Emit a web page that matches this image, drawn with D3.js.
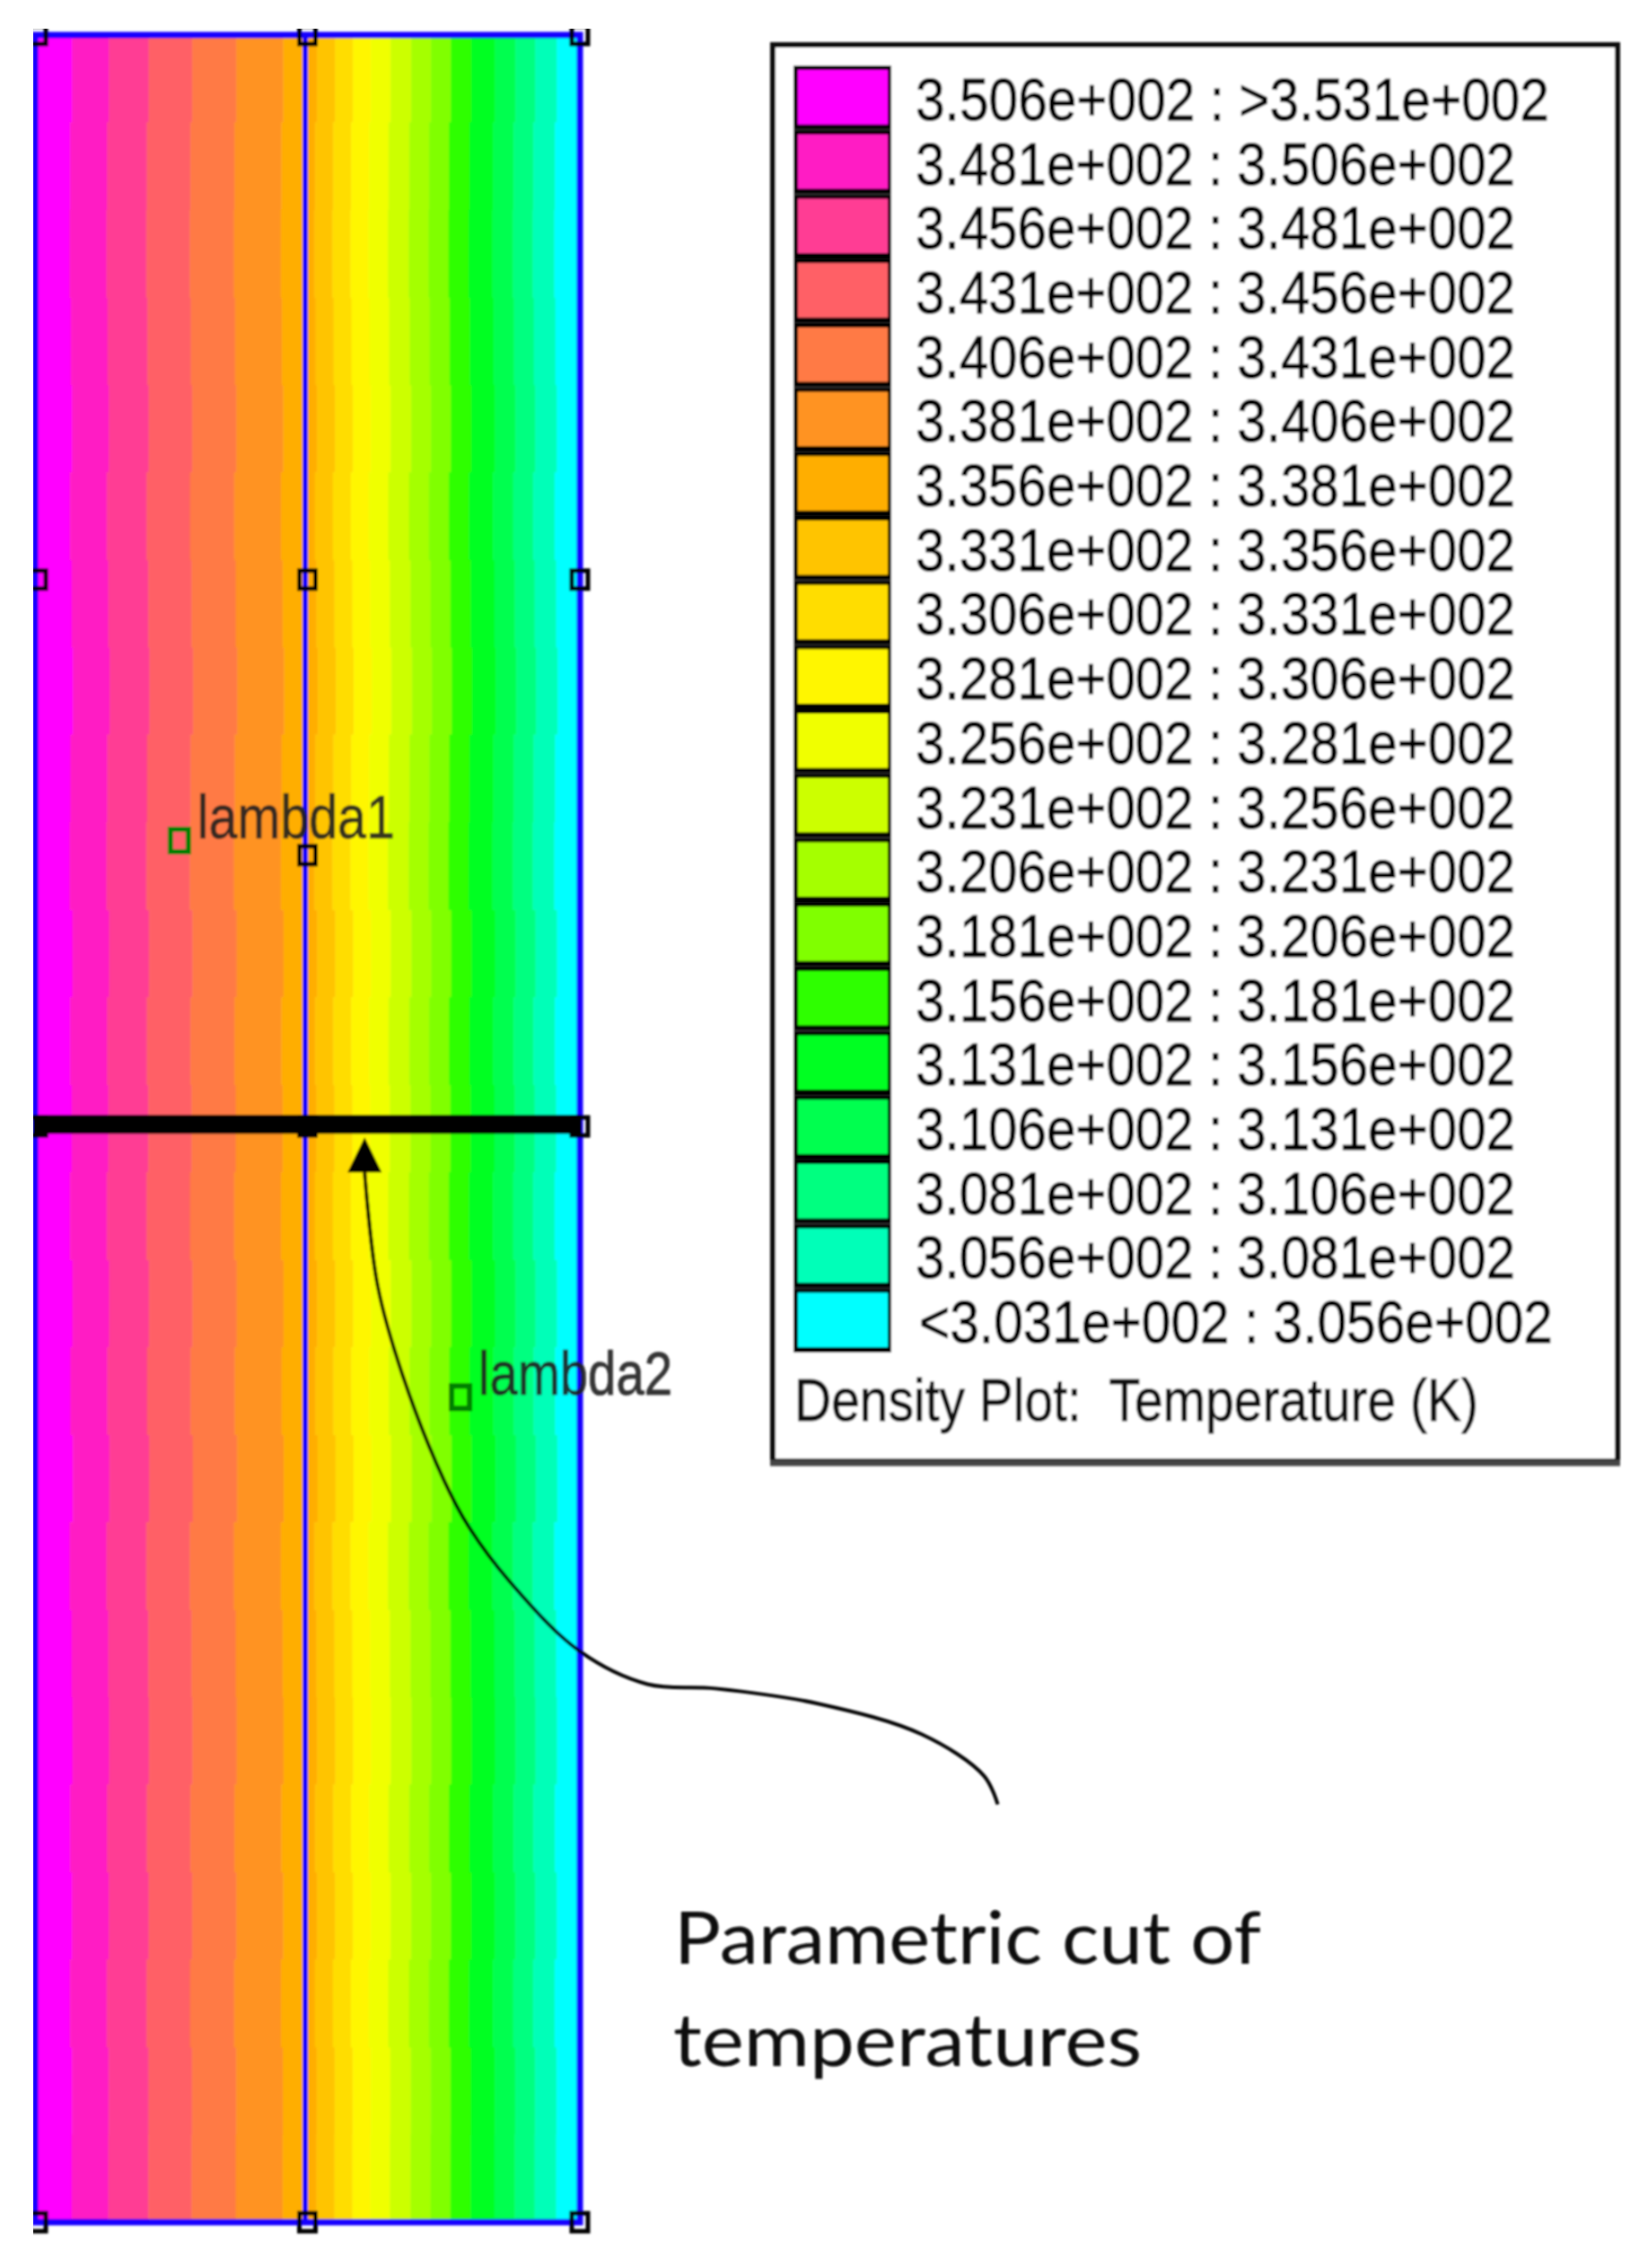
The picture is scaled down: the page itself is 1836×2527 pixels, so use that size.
<!DOCTYPE html>
<html>
<head>
<meta charset="utf-8">
<script src="https://cdn.jsdelivr.net/npm/d3@7"></script>
<style>
  body { margin: 0; background: #fff; }
  text { font-family: "Liberation Sans", Arial, sans-serif; }
</style>
</head>
<body>
<svg id="chart" width="1836" height="2527"></svg>
<script>
// legend rows, hottest first
const lowLabels = ["3.506e+002","3.481e+002","3.456e+002","3.431e+002","3.406e+002","3.381e+002","3.356e+002",
  "3.331e+002","3.306e+002","3.281e+002","3.256e+002","3.231e+002","3.206e+002","3.181e+002","3.156e+002",
  "3.131e+002","3.106e+002","3.081e+002","3.056e+002","<3.031e+002"];
const highLabels = [">3.531e+002","3.506e+002","3.481e+002","3.456e+002","3.431e+002","3.406e+002","3.381e+002",
  "3.356e+002","3.331e+002","3.306e+002","3.281e+002","3.256e+002","3.231e+002","3.206e+002","3.181e+002",
  "3.156e+002","3.131e+002","3.106e+002","3.081e+002","3.056e+002"];
const bandColors = ["#ff00ff","#ff1fc4","#ff3d94","#ff6066","#ff7a45","#ff9322","#ffae00","#ffc400","#ffdd00","#fff600",
  "#f0ff00","#ccff00","#a5ff00","#80ff00","#2eff00","#00ff20","#00ff50","#00ff80","#00ffb8","#00ffff"];
const legendTitle = "Density Plot:  Temperature (K)";

// position across the plate (% of width) where each colour band starts/ends
const bandEdges = [0,6.75,13.5,20.8,28.8,36.9,45.5,51.7,55,58.3,61.6,65.2,69,72.65,76.3,80,84.35,88.1,91.75,95.7,100];
// rough wiggle of the contour edges down the plate, read by eye (% of width)
const edgeDepth = [0,4,8,12,16,20,24,28,32,36,40,44,48,52,56,60,64,68,72,76,80,84,88,92,96,100];
const edgeWiggle = [0,0.1,-0.25,-0.35,-0.15,0.1,-0.3,0,0.25,-0.2,-0.35,0.15,-0.25,0,-0.3,0.15,-0.2,0.2,-0.35,0,0.15,-0.25,0.1,-0.3,0.05,0];

// mesh node handles, in plate units
const handleAcross = [0.5, 50, 100];
const handleDown = [0, 24.9, 49.9, 100];
const midHandle = [50, 37.5];
const cutDown = 49.8;
const divider = 49.6;

// block labels
const blockNames = ["lambda1","lambda2"];
const blockAcross = [26.5, 78.1];
const blockDown = [36.85, 62.3];

// the hand drawn callout arrow
const calloutAcross = [60.5,62.9,67.5,75.1,79.6,87.1,100,112.4,124.9,143.9,162.8,174.2,176.7];
const calloutDown = [52,57.2,61.3,66.1,68.2,70.7,73.9,75.4,75.6,76.3,77.7,79.6,80.9];
const arrowTip = [60.5, 50.4];
const noteLines = ["Parametric cut of","temperatures"];

const svg = d3.select("#chart");
const defs = svg.append("defs");
defs.append("filter").attr("id","soft").attr("x",0).attr("y",0)
  .attr("filterUnits","userSpaceOnUse").attr("width",1836).attr("height",2527)
  .append("feGaussianBlur").attr("stdDeviation",0.8);
defs.append("clipPath").attr("id","crop").append("rect")
  .attr("x",37).attr("y",32).attr("width",1799).attr("height",2495);

const root = svg.append("g").attr("filter","url(#soft)").attr("clip-path","url(#crop)");

const x = d3.scaleLinear().domain([0,100]).range([39,646]);
const y = d3.scaleLinear().domain([0,100]).range([39,2476]);

// ── colour bands ──────────────────────────────────────────────
const bandArea = d3.area()
  .curve(d3.curveStepAfter)
  .y(d => y(d));

function edgeX(edge, i) {
  if (edge === 0 || edge === 100) return x(edge);
  return x(edge + edgeWiggle[i]);
}

root.append("g").selectAll("path")
  .data(bandColors)
  .join("path")
  .attr("fill", d => d)
  .attr("stroke", d => d)
  .attr("stroke-width", 0.6)
  .attr("d", (d, b) => bandArea
    .x0((v, i) => edgeX(bandEdges[b], i))
    .x1((v, i) => edgeX(bandEdges[b + 1], i))(edgeDepth));

// ── plate outline and divider ─────────────────────────────────
const blue = "#1400ff";
root.append("rect")
  .attr("x", x(0)).attr("y", y(0))
  .attr("width", x(100) - x(0)).attr("height", y(100) - y(0))
  .attr("fill","none").attr("stroke",blue).attr("stroke-width",7);
root.append("line")
  .attr("x1", x(divider)).attr("x2", x(divider))
  .attr("y1", y(0)).attr("y2", y(100))
  .attr("stroke",blue).attr("stroke-width",6);

// ── node handles ──────────────────────────────────────────────
const handles = d3.cross(handleAcross, handleDown).concat([midHandle]);
root.append("g").selectAll("rect")
  .data(handles)
  .join("rect")
  .attr("x", d => x(d[0]) - 9)
  .attr("y", d => y(d[1]) - 10)
  .attr("width", 18).attr("height", 20)
  .attr("fill","none").attr("stroke","#000").attr("stroke-width",5);

// ── parametric cut ────────────────────────────────────────────
root.append("line")
  .attr("x1", x(0) - 2).attr("x2", x(100) + 2)
  .attr("y1", y(cutDown)).attr("y2", y(cutDown))
  .attr("stroke","#000").attr("stroke-width",21);

// ── block labels ──────────────────────────────────────────────
const blockWidth = [220, 216];
const block = root.append("g").selectAll("g")
  .data(blockNames)
  .join("g")
  .attr("transform", (d, i) => `translate(${x(blockAcross[i])},${y(blockDown[i])})`);
block.append("rect")
  .attr("x",-10).attr("y",-13).attr("width",20).attr("height",25)
  .attr("fill","none").attr("stroke","#008000").attr("stroke-width",6);
block.append("text")
  .text(d => d)
  .attr("x",20).attr("y",-3)
  .attr("font-size",68)
  .attr("fill","#202020")
  .attr("stroke","#202020")
  .attr("stroke-width",0.7)
  .attr("fill-opacity",0.9)
  .attr("textLength",(d, i) => blockWidth[i])
  .attr("lengthAdjust","spacingAndGlyphs");

// ── callout ───────────────────────────────────────────────────
const calloutLine = d3.line().curve(d3.curveCatmullRom.alpha(0.5))
  .x((d, i) => x(calloutAcross[i]))
  .y((d, i) => y(calloutDown[i]));
root.append("path")
  .attr("d", calloutLine(calloutAcross))
  .attr("fill","none").attr("stroke","#000").attr("stroke-width",4);
root.append("path")
  .attr("d", d3.line()([
    [x(arrowTip[0]), y(arrowTip[1])],
    [x(arrowTip[0]) - 19, y(calloutDown[0])],
    [x(arrowTip[0]) + 19, y(calloutDown[0])]
  ]) + "Z")
  .attr("fill","#000");

const noteWidth = [654, 522];
root.append("g").selectAll("text")
  .data(noteLines)
  .join("text")
  .text(d => d)
  .attr("x", (d, i) => 751 - i)
  .attr("y", (d, i) => 2188 + i * 114)
  .style("font-family","Lato, 'Open Sans', sans-serif")
  .attr("font-size",82)
  .attr("fill","#0a0a0a")
  .attr("textLength",(d, i) => noteWidth[i])
  .attr("lengthAdjust","spacingAndGlyphs");

// ── legend ────────────────────────────────────────────────────
const legend = root.append("g");
legend.append("rect")
  .attr("x",861).attr("y",50).attr("width",941).attr("height",1578)
  .attr("fill","#fff").attr("stroke","#111").attr("stroke-width",6);
legend.append("line")
  .attr("x1",858).attr("x2",1805).attr("y1",1630).attr("y2",1630)
  .attr("stroke","#444").attr("stroke-width",7);

const rowY = d3.scaleBand().domain(d3.range(bandColors.length)).range([73,1507]);

legend.selectAll("rect.back")
  .data(bandColors)
  .join("rect")
  .attr("class","back")
  .attr("x",884).attr("width",109)
  .attr("y",(d, i) => rowY(i))
  .attr("height",rowY.bandwidth())
  .attr("fill","#000");
legend.selectAll("rect.swatch")
  .data(bandColors)
  .join("rect")
  .attr("class","swatch")
  .attr("x",889).attr("width",100)
  .attr("y",(d, i) => rowY(i) + 5)
  .attr("height",rowY.bandwidth() - 11)
  .attr("fill",d => d);

const rowText = lowLabels.map((low, i) => `${low} : ${highLabels[i]}`);
legend.selectAll("text.row")
  .data(rowText)
  .join("text")
  .attr("class","row")
  .text(d => d)
  .attr("x",d => d[0] === "<" ? 1024 : 1020)
  .attr("y",(d, i) => rowY(i) + rowY.bandwidth() / 2 + 25)
  .attr("font-size",66)
  .attr("fill","#000")
  .attr("stroke","#000")
  .attr("stroke-width",0.8)
  .attr("textLength",d => d.length > 23 ? 706 : 668)
  .attr("lengthAdjust","spacingAndGlyphs");

legend.append("text")
  .text(legendTitle)
  .attr("x",885).attr("y",1583)
  .style("white-space","pre")
  .attr("font-size",66)
  .attr("fill","#111")
  .attr("stroke","#111")
  .attr("stroke-width",0.8)
  .attr("textLength",762)
  .attr("lengthAdjust","spacingAndGlyphs");
</script>
</body>
</html>
